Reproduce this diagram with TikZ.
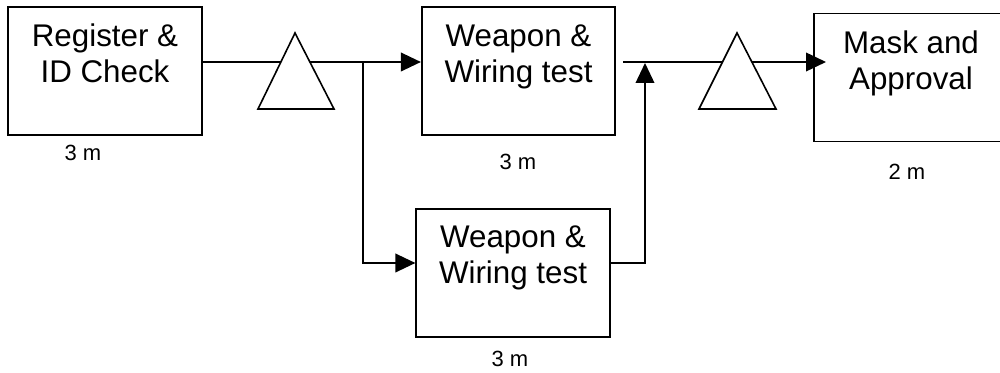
\documentclass[tikz,border=0pt]{standalone}
\usepackage{fontspec}
\setmainfont{Liberation Sans}
\usetikzlibrary{arrows.meta}
\begin{document}
\begin{tikzpicture}[x=0.75pt,y=-0.75pt,
  stage/.style={draw, line width=1.4pt, minimum width=145pt, minimum height=96pt, inner sep=0pt},
  stagetext/.style={anchor=base, align=center, inner sep=0pt,
    font=\fontsize{23.5}{27}\selectfont},
  timetext/.style={inner sep=0pt, font=\fontsize{16.5}{19}\selectfont},
  flow/.style={line width=1.2pt},
  flowarrow/.style={flow, -{Triangle[length=15pt, width=14pt]}},
  buffer/.style={line width=1.2pt, fill=white}]
\useasboundingbox (0,0) rectangle (1000,373);
\fill[white] (0,0) rectangle (1000,373);
\clip (0,0) rectangle (1000,373);

% process stages
\node[stage] (reg) at (105,71) {};
\node[stage] (wpn) at (518.5,71) {};
\node[stage] (wpnb) at (513,273) {};
\node[stage] (mask) at (911,77.5) {};

% stage names (anchored on the baseline of their last line)
\node[stagetext] (regt) at (105,83) {Register \&\\ID Check};
\node[stagetext] (wpnt) at (518.5,83) {Weapon \&\\Wiring test};
\node[stagetext] (wpnbt) at (513,284) {Weapon \&\\Wiring test};
\node[stagetext] (maskt) at (911,90) {Mask and\\Approval};

% stage times
\node[timetext] (regtime) at (83,153) {3 m};
\node[timetext] (wpntime) at (518,162) {3 m};
\node[timetext] (wpnbtime) at (510,359) {3 m};
\node[timetext] (masktime) at (907,172) {2 m};

% junction points of the flow lines
\coordinate (split) at (363,62);
\coordinate (wout) at (623,62);
\coordinate (merge) at (645,62);
\coordinate (lowturn) at (363,263);
\coordinate (lowout) at (645,263);
\coordinate (maskin) at (826,62);

% flow lines
\draw[flow] (reg.east |- split) -- (split);
\draw[flowarrow] (split) -- (wpn.west |- split);
\draw[flowarrow] (split) -- (lowturn) -- (wpnb.west |- lowturn);
\draw[flowarrow] (wpnb.east |- lowout) -- (lowout) -- ([yshift=-0.75pt]merge);
\draw[flowarrow] (wout) -- (maskin);

% inventory buffers
\draw[buffer] (295,33) -- (334,109) -- (258,109) -- cycle;
\draw[buffer] (737,33) -- (776,109) -- (699,109) -- cycle;
\end{tikzpicture}
\end{document}
